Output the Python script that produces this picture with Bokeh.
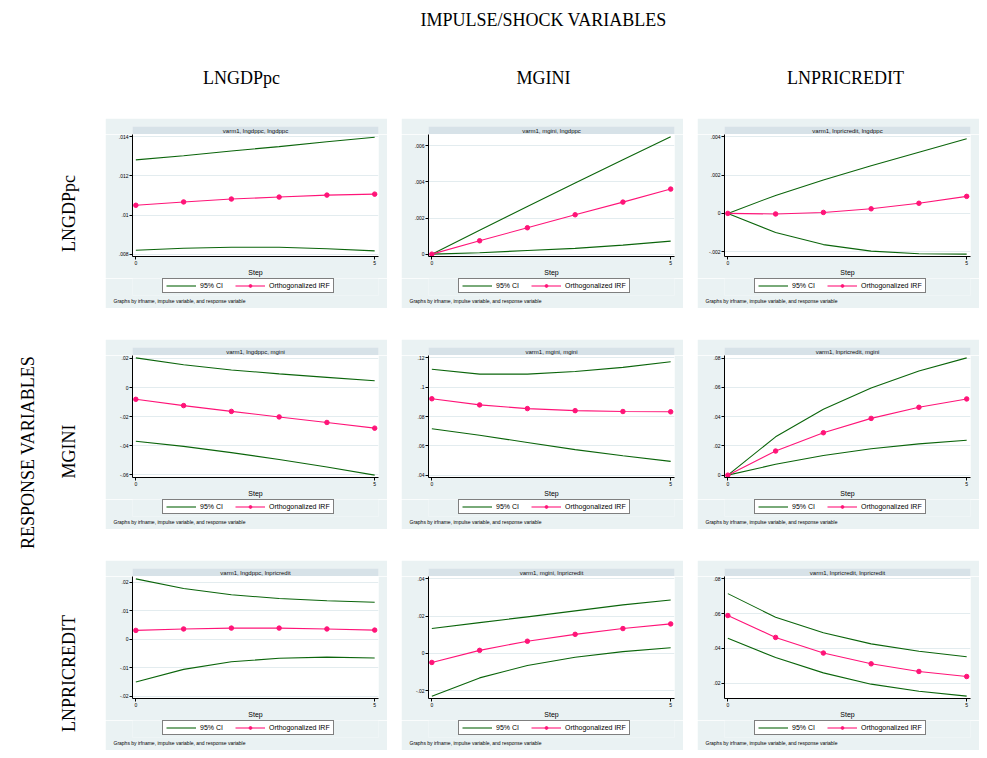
from bokeh.plotting import figure
from bokeh.models import Range1d, FixedTicker, Legend, LegendItem, Title, ColumnDataSource
from bokeh.layouts import column, row
from bokeh.core.properties import value
from bokeh.embed import file_html
from bokeh.resources import INLINE
import math

# ---------------- data ----------------
steps = [0, 1, 2, 3, 4, 5]
x_ticks = [0, 5]
x_tick_labels = ["0", "5"]

impulse_names = ["LNGDPpc", "MGINI", "LNPRICREDIT"]
response_names = ["LNGDPpc", "MGINI", "LNPRICREDIT"]
impulse_vars = ["lngdppc", "mgini", "lnpricredit"]
response_vars = ["lngdppc", "mgini", "lnpricredit"]

irf_lngdppc_lngdppc = [0.01050, 0.01067, 0.01082, 0.01092, 0.01102, 0.01107]
lo_lngdppc_lngdppc = [0.00820, 0.00830, 0.00835, 0.00835, 0.00828, 0.00817]
hi_lngdppc_lngdppc = [0.01282, 0.01303, 0.01328, 0.01350, 0.01375, 0.01398]
yt_lngdppc_lngdppc = [0.008, 0.010, 0.012, 0.014]
yl_lngdppc_lngdppc = [".008", ".01", ".012", ".014"]

irf_mgini_lngdppc = [0.0, 0.00074, 0.00146, 0.00218, 0.00288, 0.00360]
lo_mgini_lngdppc = [0.0, 0.00008, 0.00020, 0.00032, 0.00050, 0.00072]
hi_mgini_lngdppc = [0.0, 0.00132, 0.00264, 0.00394, 0.00522, 0.00649]
yt_mgini_lngdppc = [0.0, 0.002, 0.004, 0.006]
yl_mgini_lngdppc = ["0", ".002", ".004", ".006"]

irf_lnpricredit_lngdppc = [0.0, -0.00003, 0.00005, 0.00024, 0.00053, 0.00089]
lo_lnpricredit_lngdppc = [0.0, -0.00100, -0.00163, -0.00197, -0.00211, -0.00213]
hi_lnpricredit_lngdppc = [0.0, 0.00094, 0.00175, 0.00249, 0.00320, 0.00390]
yt_lnpricredit_lngdppc = [-0.002, 0.0, 0.002, 0.004]
yl_lnpricredit_lngdppc = ["-.002", "0", ".002", ".004"]

irf_lngdppc_mgini = [-0.0081, -0.0124, -0.0164, -0.0202, -0.0240, -0.0279]
lo_lngdppc_mgini = [-0.0369, -0.0404, -0.0447, -0.0494, -0.0546, -0.0602]
hi_lngdppc_mgini = [0.0204, 0.0157, 0.0121, 0.0094, 0.0070, 0.0047]
yt_lngdppc_mgini = [-0.06, -0.04, -0.02, 0.0, 0.02]
yl_lngdppc_mgini = ["-.06", "-.04", "-.02", "0", ".02"]

irf_mgini_mgini = [0.0921, 0.0879, 0.0854, 0.0840, 0.0834, 0.0832]
lo_mgini_mgini = [0.0716, 0.0672, 0.0623, 0.0574, 0.0532, 0.0494]
hi_mgini_mgini = [0.1122, 0.1089, 0.1089, 0.1107, 0.1135, 0.1173]
yt_mgini_mgini = [0.04, 0.06, 0.08, 0.10, 0.12]
yl_mgini_mgini = [".04", ".06", ".08", ".1", ".12"]

irf_lnpricredit_mgini = [0.0, 0.0165, 0.0290, 0.0388, 0.0464, 0.0521]
lo_lnpricredit_mgini = [0.0, 0.0074, 0.0134, 0.0180, 0.0214, 0.0239]
hi_lnpricredit_mgini = [0.0, 0.0262, 0.0451, 0.0596, 0.0712, 0.0802]
yt_lnpricredit_mgini = [0.0, 0.02, 0.04, 0.06, 0.08]
yl_lnpricredit_mgini = ["0", ".02", ".04", ".06", ".08"]

irf_lngdppc_lnpricredit = [0.0031, 0.0036, 0.0039, 0.0039, 0.0036, 0.0032]
lo_lngdppc_lnpricredit = [-0.0150, -0.0106, -0.0079, -0.0067, -0.0063, -0.0066]
hi_lngdppc_lnpricredit = [0.0212, 0.0178, 0.0156, 0.0143, 0.0135, 0.0130]
yt_lngdppc_lnpricredit = [-0.02, -0.01, 0.0, 0.01, 0.02]
yl_lngdppc_lnpricredit = ["-.02", "-.01", "0", ".01", ".02"]

irf_mgini_lnpricredit = [-0.0049, 0.0016, 0.0065, 0.0102, 0.0133, 0.0158]
lo_mgini_lnpricredit = [-0.0230, -0.0132, -0.0065, -0.0021, 0.0009, 0.0030]
hi_mgini_lnpricredit = [0.0133, 0.0165, 0.0196, 0.0228, 0.0260, 0.0286]
yt_mgini_lnpricredit = [-0.02, 0.0, 0.02, 0.04]
yl_mgini_lnpricredit = ["-.02", "0", ".02", ".04"]

irf_lnpricredit_lnpricredit = [0.0589, 0.0463, 0.0373, 0.0311, 0.0267, 0.0238]
lo_lnpricredit_lnpricredit = [0.0458, 0.0347, 0.0259, 0.0194, 0.0153, 0.0125]
hi_lnpricredit_lnpricredit = [0.0715, 0.0579, 0.0490, 0.0426, 0.0383, 0.0352]
yt_lnpricredit_lnpricredit = [0.02, 0.04, 0.06, 0.08]
yl_lnpricredit_lnpricredit = [".02", ".04", ".06", ".08"]

legend_labels = ["95% CI", "Orthogonalized IRF"]
note_text = "Graphs by irfname, impulse variable, and response variable"

# ---------------- style ----------------
BG = "#EAF2F3"
STRIP = "#D7E2E8"
GRID = "#E3ECEF"
GREEN = "#0B650B"
PINK = "#FF1478"
SANS = "Liberation Sans"
SERIF = "Liberation Serif"

PANEL_W = 282
PANEL_H = 190
STRIP_H = 16
FOOT_H = 30
LEFT_W = 105
HEAD_H = 118
COL_GAP = 14
ROW_GAP = 31
BORDER_L = 27
BORDER_R = 9

G = globals()


def add_series(fig, src):
    r_hi = fig.line("step", "hi", source=src, line_color=GREEN, line_width=1.1)
    r_lo = fig.line("step", "lo", source=src, line_color=GREEN, line_width=1.1)
    r_irf = fig.line("step", "irf", source=src, line_color=PINK, line_width=1.1)
    r_pts = fig.scatter("step", "irf", source=src, marker="circle", size=4.5,
                        fill_color=PINK, line_color=PINK)
    return r_hi, r_lo, r_irf, r_pts


def make_panel(imp, resp):
    key = f"{imp}_{resp}"
    irf = G["irf_" + key]
    lo = G["lo_" + key]
    hi = G["hi_" + key]
    yt = G["yt_" + key]
    yl = G["yl_" + key]

    ymin = min(min(lo), min(yt))
    ymax = max(max(hi), max(yt))
    pad = 0.02 * (ymax - ymin)
    src = ColumnDataSource(dict(step=steps, irf=irf, lo=lo, hi=hi))

    # --- title strip ---
    s = figure(width=PANEL_W, height=STRIP_H, x_range=Range1d(0, 1), y_range=Range1d(0, 1),
               x_axis_location=None, y_axis_location=None,
               min_border_left=BORDER_L, min_border_right=BORDER_R, min_border_top=8,
               min_border_bottom=0, output_backend="svg", toolbar_location=None)
    s.grid.visible = False
    s.background_fill_color = STRIP
    s.border_fill_color = BG
    s.outline_line_color = None
    s.text(x=[0.5], y=[0.45], text=[f"varm1, {imp}, {resp}"], text_align="center",
           text_baseline="middle", text_font_size="6px", text_font=value(SANS),
           text_color="#111111")

    # --- main plot ---
    p = figure(width=PANEL_W, height=PANEL_H - STRIP_H - FOOT_H,
               x_range=Range1d(-0.07, 5.08), y_range=Range1d(ymin - pad, ymax + pad),
               min_border_left=BORDER_L, min_border_right=BORDER_R, min_border_top=0,
               min_border_bottom=20, output_backend="svg", toolbar_location=None)
    p.border_fill_color = BG
    p.background_fill_color = "white"
    p.outline_line_color = None
    p.xgrid.visible = False
    p.ygrid.ticker = FixedTicker(ticks=yt)
    p.ygrid.grid_line_color = GRID

    p.yaxis.ticker = FixedTicker(ticks=yt)
    p.yaxis.major_label_overrides = {t: l for t, l in zip(yt, yl)}
    p.xaxis.ticker = FixedTicker(ticks=x_ticks)
    p.xaxis.major_label_overrides = {t: l for t, l in zip(x_ticks, x_tick_labels)}
    for ax in (p.xaxis, p.yaxis):
        ax.axis_line_color = "black"
        ax.major_tick_line_color = "black"
        ax.major_tick_out = 3
        ax.major_tick_in = 0
        ax.minor_tick_line_color = None
        ax.major_label_text_font_size = "5px"
        ax.major_label_text_font = SANS
        ax.major_label_text_color = "black"
        ax.major_label_standoff = 1
    p.xaxis.axis_label = "Step"
    p.xaxis.axis_label_text_font_size = "7px"
    p.xaxis.axis_label_text_font_style = "normal"
    p.xaxis.axis_label_text_font = SANS
    p.xaxis.axis_label_text_color = "black"
    p.xaxis.axis_label_standoff = 1
    add_series(p, src)

    # --- footer: legend + note ---
    f = figure(width=PANEL_W, height=FOOT_H, x_range=Range1d(-0.07, 5.08),
               y_range=Range1d(ymin - pad, ymax + pad), x_axis_location=None,
               y_axis_location=None, min_border_left=BORDER_L, min_border_right=BORDER_R,
               min_border_top=0, min_border_bottom=13, output_backend="svg",
               toolbar_location=None)
    f.grid.visible = False
    f.background_fill_color = BG
    f.border_fill_color = BG
    f.outline_line_color = None
    f_hi, f_lo, f_irf, f_pts = add_series(f, src)
    for r in (f_hi, f_lo, f_irf, f_pts):
        r.visible = False

    leg = Legend(items=[LegendItem(label=legend_labels[0], renderers=[f_hi]),
                        LegendItem(label=legend_labels[1], renderers=[f_irf, f_pts])],
                 orientation="horizontal", location=(30, 2))
    leg.border_line_color = "black"
    leg.background_fill_color = "white"
    leg.background_fill_alpha = 1
    leg.inactive_fill_alpha = 0
    leg.label_text_font_size = "7px"
    leg.label_text_font = SANS
    leg.label_text_color = "black"
    leg.glyph_width = 30
    leg.glyph_height = 7
    leg.label_height = 7
    leg.label_standoff = 4
    leg.spacing = 12
    leg.padding = 3
    leg.margin = 0
    f.add_layout(leg)

    f.add_layout(Title(text=note_text, align="left", text_font_size="5px",
                       text_font_style="normal", text_font=SANS, text_color="black",
                       standoff=0, offset=-19), "below")

    return column(s, p, f, spacing=0)


TOTAL_W = LEFT_W + 3 * PANEL_W + 2 * COL_GAP
GRID_H = 3 * PANEL_H + 2 * ROW_GAP

header = figure(width=TOTAL_W, height=HEAD_H, x_range=Range1d(0, TOTAL_W),
                y_range=Range1d(HEAD_H, 0), x_axis_location=None, y_axis_location=None,
                min_border=0, output_backend="svg", toolbar_location=None)
header.grid.visible = False
header.outline_line_color = None
header.text(x=[543], y=[19], text=["IMPULSE/SHOCK VARIABLES"], text_align="center",
            text_baseline="middle", text_font_size="18px", text_font=value(SERIF),
            text_color="black")
header.text(x=[241, 543, 845], y=[77, 77, 77], text=impulse_names, text_align="center",
            text_baseline="middle", text_font_size="18px", text_font=value(SERIF),
            text_color="black")

left = figure(width=LEFT_W, height=GRID_H, x_range=Range1d(0, LEFT_W),
              y_range=Range1d(HEAD_H + GRID_H, HEAD_H), x_axis_location=None,
              y_axis_location=None, min_border=0, output_backend="svg", toolbar_location=None)
left.grid.visible = False
left.outline_line_color = None
left.text(x=[27], y=[452], text=["RESPONSE VARIABLES"], angle=math.pi / 2,
          text_align="center", text_baseline="middle", text_font_size="18px",
          text_font=value(SERIF), text_color="black")
left.text(x=[68, 68, 68], y=[213, 451, 673], text=response_names, angle=math.pi / 2,
          text_align="center", text_baseline="middle", text_font_size="18px",
          text_font=value(SERIF), text_color="black")

rows = []
for resp in response_vars:
    rows.append(row(*[make_panel(imp, resp) for imp in impulse_vars], spacing=COL_GAP))
grid = column(*rows, spacing=ROW_GAP)

page = column(header, row(left, grid, spacing=0), spacing=0)

open("out.html", "w").write(file_html(page, INLINE))
